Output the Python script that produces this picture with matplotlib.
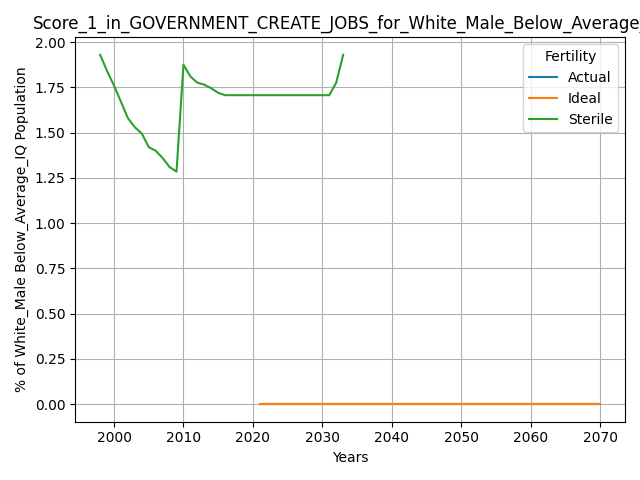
import numpy as np
import matplotlib.pyplot as plt

sterile_years = np.arange(1998, 2034)
sterile = [1.93, 1.84, 1.76, 1.67, 1.58, 1.53, 1.495, 1.42, 1.40, 1.36,
           1.31, 1.285, 1.875, 1.81, 1.776, 1.765, 1.745, 1.72, 1.707, 1.707,
           1.707, 1.707, 1.707, 1.707, 1.707, 1.707, 1.707, 1.707, 1.707, 1.707,
           1.707, 1.707, 1.707, 1.707, 1.776, 1.93]
proj_years = np.arange(2021, 2071)
actual = [0.0] * len(proj_years)
ideal = [0.0] * len(proj_years)

fig, ax = plt.subplots(figsize=(6.4, 4.8), dpi=100)
ax.plot(proj_years, actual, label="Actual")
ax.plot(proj_years, ideal, label="Ideal")
ax.plot(sterile_years, sterile, label="Sterile")
ax.set_title("Score_1_in_GOVERNMENT_CREATE_JOBS_for_White_Male_Below_Average_IQ")
ax.set_xlabel("Years")
ax.set_ylabel("% of White_Male Below_Average_IQ Population")
ax.grid(True)
ax.legend(title="Fertility")
plt.tight_layout()
plt.savefig("out.png")
